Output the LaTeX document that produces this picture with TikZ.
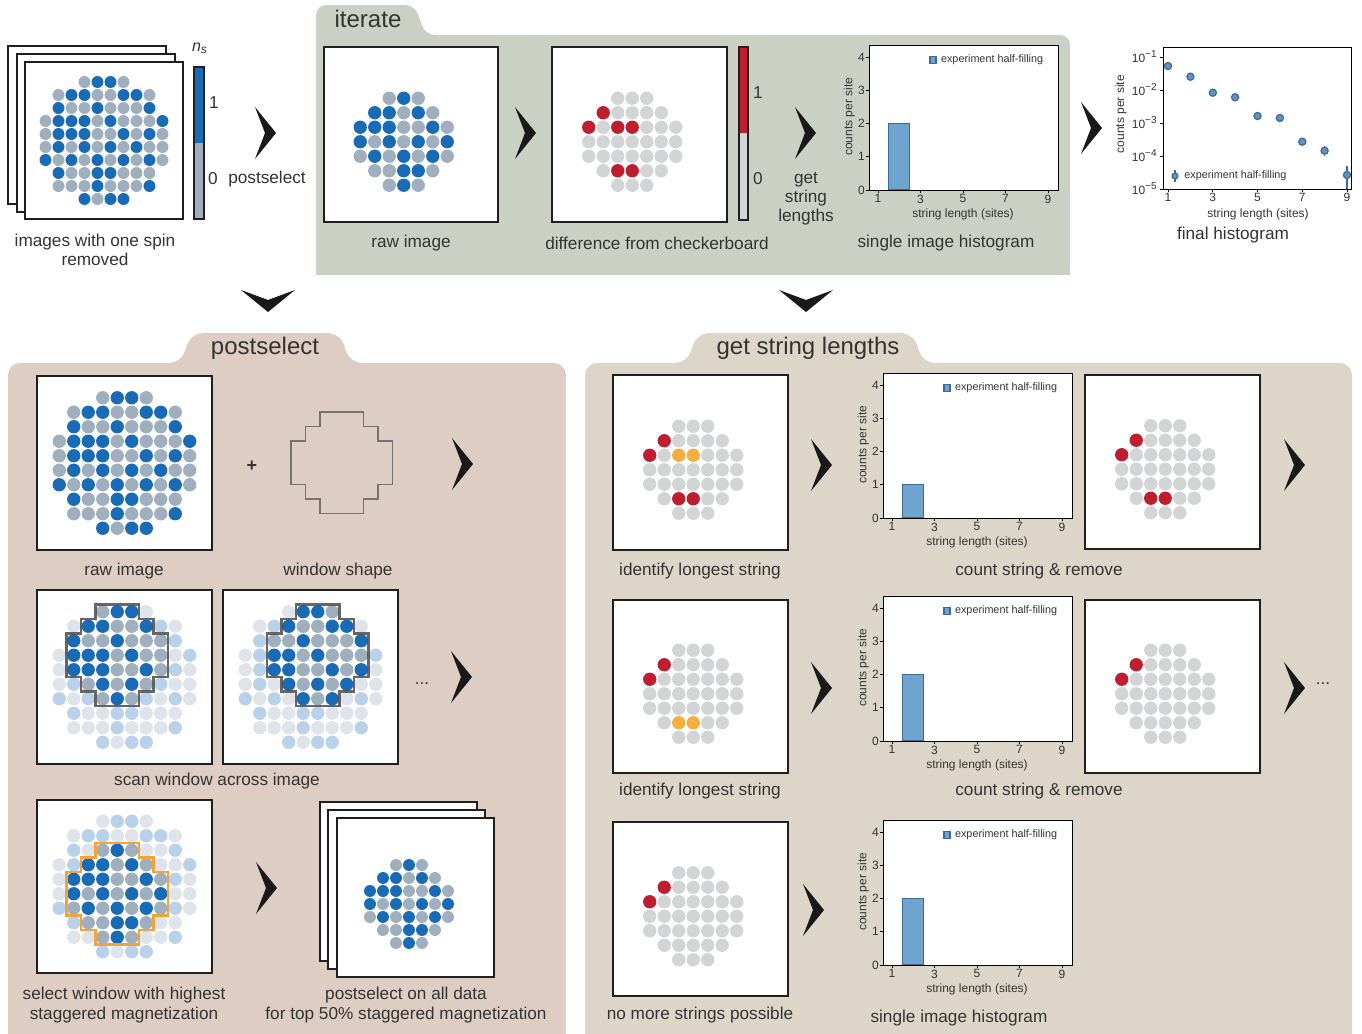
\documentclass[tikz,border=0pt]{standalone}
\usepackage{fontspec}
\setmainfont{Liberation Sans}
\usepackage{xcolor}
\usetikzlibrary{positioning}

\definecolor{spinblue}{HTML}{1A6BB6}
\definecolor{spingrey}{HTML}{9FAFBD}
\definecolor{paleblue}{HTML}{B9D1E9}
\definecolor{palegrey}{HTML}{DFE4EA}
\definecolor{holered}{HTML}{BE1E2D}
\definecolor{emptygrey}{HTML}{D3D4D6}
\definecolor{strorange}{HTML}{F7AE40}
\definecolor{winorange}{HTML}{F2A43A}
\definecolor{iterbg}{HTML}{CBD0C5}
\definecolor{psbg}{HTML}{DECDC2}
\definecolor{gsbg}{HTML}{DDD6C8}
\definecolor{txtgrey}{HTML}{333333}
\definecolor{barblue}{HTML}{6FA4CE}
\definecolor{bardark}{HTML}{3C6B95}

\tikzset{
	atb/.style={fill=spinblue}, atg/.style={fill=spingrey},
	atbp/.style={fill=paleblue}, atgp/.style={fill=palegrey},
	atbn/.style={}, atgn/.style={},
	atx/.style={}, atxp/.style={}, atxn/.style={},
	atr/.style={fill=holered}, atl/.style={fill=emptygrey}, ato/.style={fill=strorange},
	imgframe/.style={draw=black!88, line width=1.1pt, fill=white},
	cbframe/.style={draw=black!88, line width=0.9pt},
	chev/.style={fill=black!90},
	scanwin/.style={draw=black!70, line width=1.1pt, opacity=0.85},
	shapewin/.style={draw=black!55, line width=0.8pt},
	selwin/.style={draw=winorange, line width=1.3pt},
	histbar/.style={fill=barblue, draw=bardark, line width=0.6pt},
	axbox/.style={draw=black, line width=0.4pt},
	markpt/.style={fill=barblue!70!bardark, draw=bardark, line width=0.6pt},
	errbar/.style={draw=bardark, line width=0.6pt},
	captext/.style={font=\fontsize{8.6}{9.6}\selectfont, text=txtgrey, align=center, inner sep=0pt},
	tabtitle/.style={font=\fontsize{12}{14}\selectfont, text=txtgrey, inner sep=0pt},
	ticklab/.style={font=\fontsize{6}{7}\selectfont, text=txtgrey, inner sep=0.5pt},
	axlab/.style={font=\fontsize{6}{7}\selectfont, text=txtgrey, inner sep=0pt},
	legtext/.style={font=\fontsize{5.4}{6}\selectfont, text=txtgrey, inner sep=0pt}
}

% atom images, 10x10 sites, one list per row
\newcommand{\rawimg}{{x,x,x,g,b,b,g},{x,g,b,b,g,g,b,b,g},{x,b,g,g,b,g,g,g,b},{g,b,b,b,g,b,g,g,g,b},{g,b,b,b,g,g,b,g,b,g},{g,b,g,b,g,b,g,b,g,g},{b,g,b,g,b,g,b,g,b,g},{x,b,g,g,b,b,g,g,g},{x,g,g,g,b,g,g,g,b},{x,x,x,b,g,b,b}}
\newcommand{\diffimg}{{x},{x},{x,x,x,l,l,l},{x,x,r,l,l,l,l},{x,r,l,r,r,l,l,l},{x,l,l,l,l,l,l,l},{x,l,l,l,l,l,l,l},{x,x,l,r,r,l,l},{x,x,x,l,l,l},{x}}
\newcommand{\strimgA}{{x},{x},{x,x,x,l,l,l},{x,x,r,l,l,l,l},{x,r,l,o,o,l,l,l},{x,l,l,l,l,l,l,l},{x,l,l,l,l,l,l,l},{x,x,l,r,r,l,l},{x,x,x,l,l,l},{x}}
\newcommand{\strimgB}{{x},{x},{x,x,x,l,l,l},{x,x,r,l,l,l,l},{x,r,l,l,l,l,l,l},{x,l,l,l,l,l,l,l},{x,l,l,l,l,l,l,l},{x,x,l,r,r,l,l},{x,x,x,l,l,l},{x}}
\newcommand{\strimgC}{{x},{x},{x,x,x,l,l,l},{x,x,r,l,l,l,l},{x,r,l,l,l,l,l,l},{x,l,l,l,l,l,l,l},{x,l,l,l,l,l,l,l},{x,x,l,o,o,l,l},{x,x,x,l,l,l},{x}}
\newcommand{\strimgD}{{x},{x},{x,x,x,l,l,l},{x,x,r,l,l,l,l},{x,r,l,l,l,l,l,l},{x,l,l,l,l,l,l,l},{x,l,l,l,l,l,l,l},{x,x,l,l,l,l,l},{x,x,x,l,l,l},{x}}

% #1,#2 centre, #3 spacing, #4,#5 window column/row, #6 style suffix outside window, #7 rows
\newcommand{\atomgrid}[7]{%
	\foreach \row [count=\j from 0] in #7 {
		\foreach \ac [count=\i from 0] in \row {
			\pgfmathtruncatemacro\inwin{(abs(\i-#4-3)<=3)&&(abs(\j-#5-3)<=3)&&(abs(\i-#4-3)+abs(\j-#5-3)<=4)}
			\ifnum\inwin=1 \def\sfx{}\else\def\sfx{#6}\fi
			\path[at\ac\sfx] ({#1+(\i-4.5)*#3},{#2+(\j-4.5)*#3}) circle[radius=0.46*#3];
		}
	}
}

% window outline in units of one site
\newcommand{\winshape}{(2,0) -- (5,0) -- (5,1) -- (6,1) -- (6,2) -- (7,2) -- (7,5) -- (6,5) -- (6,6) -- (5,6) -- (5,7) -- (2,7) -- (2,6) -- (1,6) -- (1,5) -- (0,5) -- (0,2) -- (1,2) -- (1,1) -- (2,1) -- cycle}

% chevrons
\newcommand{\chevr}[2]{\fill[chev] ({#1-10},{#2-26}) -- ({#1+11},#2) -- ({#1-10},{#2+26}) -- (#1,#2) -- cycle;}
\newcommand{\chevd}[2]{\fill[chev] ({#1-27},{#2-10}) -- (#1,{#2+12}) -- ({#1+27},{#2-10}) -- (#1,#2) -- cycle;}

% single image histogram, #1,#2 data origin, #3 bar height, #4 name prefix
\newcommand{\strhist}[4]{%
	\begin{scope}[shift={(#1,#2)}, x=10.625pt, y=16.625pt]
		\fill[white] (0.576,0) rectangle (9.47,4.36);
		\filldraw[histbar] (1.5,0) rectangle (2.5,#3);
		\draw[axbox] (0.576,0) rectangle (9.47,4.36);
		\foreach \tk in {0,...,4}{
			\draw[axbox] (0.576,\tk) -- ++(-0.12,0);
			\node[ticklab, anchor=east] (#4y\tk) at (0.44,\tk) {\tk};
		}
		\foreach \tk in {1,3,5,7,9}{
			\draw[axbox] (\tk,0) -- ++(0,-0.08);
			\node[ticklab, anchor=north] (#4x\tk) at (\tk,-0.1) {\tk};
		}
		\filldraw[histbar] (3.45,3.8) rectangle (3.73,4.02);
		\node[legtext, anchor=west] (#4leg) at (3.95,3.91) {experiment half-filling};
		\node[axlab, rotate=90] (#4ylab) at (-0.35,2.2) {counts per site};
		\node[axlab] (#4xlab) at (5,-0.74) {string length (sites)};
	\end{scope}}

\begin{document}
\begin{tikzpicture}[x=0.5pt, y=-0.5pt]
	\useasboundingbox (0,0) rectangle (1362,1034);
	
	%panels
	\fill[iterbg, rounded corners=5pt] (316,275) -- (316,5) -- (415,5) -- (425,35) -- (1070,35) -- (1070,275) -- cycle;
	\fill[iterbg] (316,255) rectangle (1070,275);
	\fill[psbg, rounded corners=6pt] (8,1060) -- (8,363) -- (181,363) -- (191,333) -- (340,333) -- (350,363) -- (566,363) -- (566,1060) -- cycle;
	\fill[gsbg, rounded corners=6pt] (585,1060) -- (585,363) -- (687,363) -- (697,333) -- (913,333) -- (923,363) -- (1352,363) -- (1352,1060) -- cycle;
	
	\node[tabtitle] (tab-iter) at (368,19) {iterate};
	\node[tabtitle] (tab-ps) at (265,348) {postselect};
	\node[tabtitle] (tab-gs) at (808,348) {get string lengths};
	
	%image stack, top left
	\draw[imgframe] (8,46) rectangle (166,204);
	\draw[imgframe] (17,54) rectangle (175,212);
	\draw[imgframe] (25,62) rectangle (183,219);
	\atomgrid{104}{140.5}{13}{1}{2}{}{\rawimg}
	\node[captext] (cap-stack) at (95,250) {images with one spin\\removed};
	
	%colour bar
	\fill[spinblue] (194,67) rectangle (204,143);
	\fill[spingrey] (194,143) rectangle (204,219);
	\draw[cbframe] (194,67) rectangle (204,219);
	\node[captext, font=\fontsize{8}{9}\selectfont\itshape] (ns) at (200,48) {n\textsubscript{s}};
	\node[captext] (cb-one) at (214,103) {1};
	\node[captext] (cb-zero) at (213,179) {0};
	\node[captext] (ps-lbl) at (267,179) {postselect};
	\chevr{265}{133}
	
	%iterate: raw image
	\draw[imgframe] (324,47) rectangle (498,222);
	\atomgrid{411}{134.5}{14.5}{1}{2}{n}{\rawimg}
	\node[captext] (cap-raw1) at (411,243) {raw image};
	\chevr{525}{133}
	
	%iterate: difference
	\draw[imgframe] (552,47) rectangle (727,222);
	\atomgrid{639.5}{134.5}{14.5}{1}{2}{}{\diffimg}
	\fill[holered] (739,47) rectangle (748,133);
	\fill[emptygrey] (739,133) rectangle (748,220);
	\draw[cbframe] (739,47) rectangle (748,220);
	\node[captext] (cb2-one) at (758,93) {1};
	\node[captext] (cb2-zero) at (758,179) {0};
	\node[captext] (cap-diff) at (657,243) {difference from checkerboard};
	\chevr{805}{133}
	\node[captext] (lbl-get) at (806,199) {get\\string\\lengths};
	
	%iterate: histogram
	\strhist{856.75}{190}{2}{hA}
	\node[captext] (cap-hist1) at (946,243) {single image histogram};
	\chevr{1091}{128}
	
	%final histogram
	\draw[axbox] (1163,47) rectangle (1351,189);
	\foreach \e in {1,...,5}{
		\draw[axbox] (1163,{24+33*\e}) -- ++(-3,0);
		\node[ticklab, anchor=east] (fy\e) at (1159,{24+33*\e}) {10\textsuperscript{−\e}};
	}
	\foreach \k in {1,3,5,7,9}{
		\draw[axbox] ({1168+22.375*(\k-1)},189) -- ++(0,3);
		\node[ticklab, anchor=north] (fx\k) at ({1168+22.375*(\k-1)},192) {\k};
	}
	\draw[errbar] (1324.6,146) -- (1324.6,156);
	\draw[errbar] (1347,166) -- (1347,189);
	\foreach \mx/\my in {1168/66, 1190.4/76.7, 1212.8/92.7, 1235.1/97.3, 1257.5/116, 1279.9/118, 1302.3/141.7, 1324.6/150.7, 1347/175}
		\filldraw[markpt] (\mx,\my) circle (3.6);
	\draw[errbar] (1175,170) -- (1175,182);
	\filldraw[markpt] (1175,176) circle (3);
	\node[legtext, anchor=west] (fleg) at (1184,176) {experiment half-filling};
	\node[axlab, rotate=90] (fylab) at (1121,114) {counts per site};
	\node[axlab] (fxlab) at (1258,214) {string length (sites)};
	\node[captext] (cap-final) at (1233,235) {final histogram};
	
	%down arrows
	\chevd{268}{300}
	\chevd{806}{300}
	
	%postselect: raw image + window
	\draw[imgframe] (37,376) rectangle (212,550);
	\atomgrid{124.5}{463}{14.5}{1}{2}{}{\rawimg}
	\node[captext] (cap-raw2) at (124,571) {raw image};
	\node[captext, font=\fontsize{9}{10}\selectfont\bfseries] (plus) at (252,466) {+};
	\draw[shapewin, shift={(291,412)}, scale=14.5] \winshape;
	\node[captext] (cap-win) at (338,571) {window shape};
	\chevr{462}{464}
	
	%postselect: scan window
	\draw[imgframe] (37,590) rectangle (212,764);
	\atomgrid{124.5}{677}{14.5}{1}{0}{p}{\rawimg}
	\draw[scanwin, shift={(66.5,604.5)}, scale=14.5] \winshape;
	\draw[imgframe] (223,590) rectangle (398,764);
	\atomgrid{310.5}{677}{14.5}{2}{0}{p}{\rawimg}
	\draw[scanwin, shift={(267,604.5)}, scale=14.5] \winshape;
	\node[captext] (dots1) at (422,684) {...};
	\chevr{461}{677}
	\node[captext] (cap-scan) at (217,781) {scan window across image};
	
	%postselect: select window
	\draw[imgframe] (37,800) rectangle (212,973);
	\atomgrid{124.5}{886.5}{14.5}{1}{2}{p}{\rawimg}
	\draw[selwin, shift={(66.5,843)}, scale=14.5] \winshape;
	\node[captext] (cap-sel) at (124,1005) {select window with highest\\staggered magnetization};
	\chevr{266}{888}
	\draw[imgframe] (320,802) rectangle (477,961);
	\draw[imgframe] (328,810) rectangle (485,969);
	\draw[imgframe] (337,818) rectangle (494,977);
	\atomgrid{415.5}{897.5}{13}{1}{2}{n}{\rawimg}
	\node[captext] (cap-top) at (406,1005) {postselect on all data\\for top 50\% staggered magnetization};
	
	%get string lengths: first string
	\draw[imgframe] (613,375) rectangle (788,550);
	\atomgrid{700.5}{462.5}{14.5}{1}{2}{}{\strimgA}
	\node[captext] (cap-id1) at (700,571) {identify longest string};
	\chevr{821}{465}
	\strhist{870.75}{518}{1}{hB}
	\draw[imgframe] (1085,375) rectangle (1260,549);
	\atomgrid{1172.5}{462}{14.5}{1}{2}{}{\strimgB}
	\node[captext] (cap-cnt1) at (1039,571) {count string \& remove};
	\chevr{1294}{465}
	
	%get string lengths: second string
	\draw[imgframe] (613,600) rectangle (788,773);
	\atomgrid{700.5}{686.5}{14.5}{1}{2}{}{\strimgC}
	\node[captext] (cap-id2) at (700,791) {identify longest string};
	\chevr{821}{688}
	\strhist{870.75}{741}{2}{hC}
	\draw[imgframe] (1085,600) rectangle (1260,773);
	\atomgrid{1172.5}{686.5}{14.5}{1}{2}{}{\strimgD}
	\node[captext] (cap-cnt2) at (1039,791) {count string \& remove};
	\chevr{1294}{688}
	\node[captext] (dots2) at (1323,684) {...};
	
	%get string lengths: done
	\draw[imgframe] (613,822) rectangle (788,996);
	\atomgrid{700.5}{909}{14.5}{1}{2}{}{\strimgD}
	\node[captext] (cap-none) at (700,1015) {no more strings possible};
	\chevr{813}{910}
	\strhist{870.75}{965}{2}{hD}
	\node[captext] (cap-hist4) at (959,1018) {single image histogram};
	
\end{tikzpicture}
\end{document}
